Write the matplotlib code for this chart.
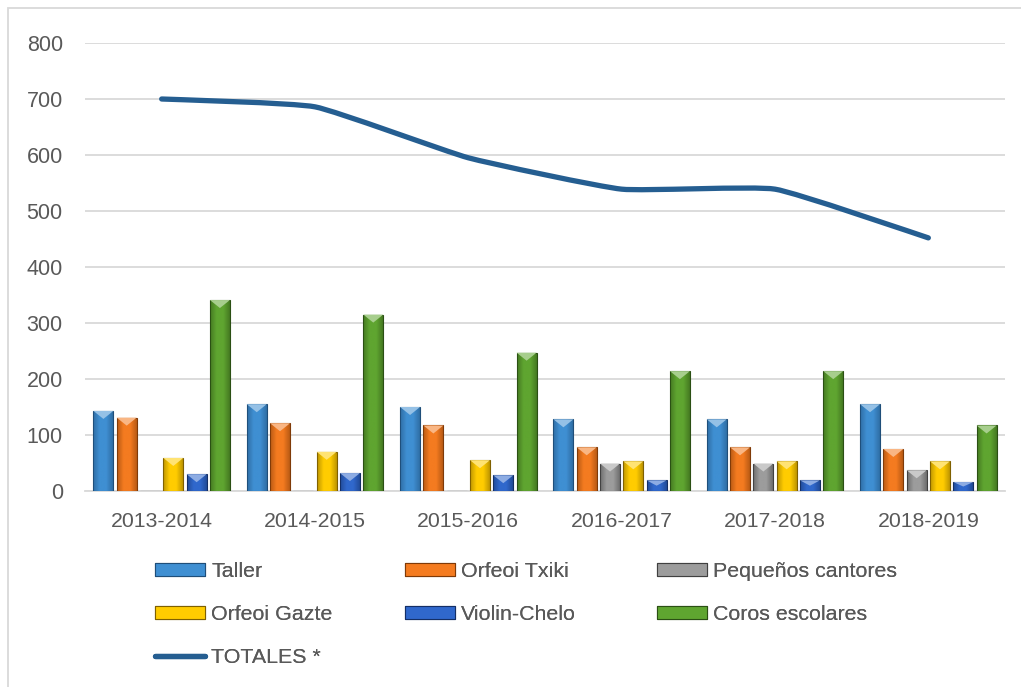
import numpy as np
import matplotlib
matplotlib.use('Agg')
import matplotlib.pyplot as plt
from matplotlib.path import Path
from matplotlib.patches import PathPatch, Rectangle, Polygon
from matplotlib.colors import LinearSegmentedColormap, to_rgb

plt.rcParams['font.family'] = ['Liberation Sans', 'DejaVu Sans']

# Datos
cursos = ['2013-2014', '2014-2015', '2015-2016', '2016-2017', '2017-2018', '2018-2019']
taller = [143, 155, 150, 128, 128, 155]
orfeoi_txiki = [131, 121, 117, 78, 78, 75]
pequenos = [0, 0, 0, 49, 49, 37]
orfeoi_gazte = [59, 70, 55, 53, 53, 53]
violin_chelo = [30, 32, 28, 19, 19, 16]
coros = [341, 315, 247, 214, 214, 117]
totales = [700, 686, 595, 539, 539, 452]

series = [
    ('Taller', taller, '#3F8FD2', '#1F4E79'),
    ('Orfeoi Txiki', orfeoi_txiki, '#F47B20', '#7F3A08'),
    ('Pequeños cantores', pequenos, '#9C9C9C', '#404040'),
    ('Orfeoi Gazte', orfeoi_gazte, '#FFCC00', '#7F6000'),
    ('Violin-Chelo', violin_chelo, '#3068CC', '#142F66'),
    ('Coros escolares', coros, '#5FA530', '#2B4F14'),
]
color_linea = '#255E91'
gris_texto = '#595959'


def aclarar(c, f):
    r, g, b = to_rgb(c)
    return (r + (1 - r) * f, g + (1 - g) * f, b + (1 - b) * f)


fig = plt.figure(figsize=(10.21, 6.87), dpi=100)
ax = fig.add_axes([85 / 1021, 1 - 491 / 687, 920 / 1021, 448 / 687])
ax.set_xlim(-0.5, len(cursos) - 0.5)
ax.set_ylim(0, 800)

x = np.arange(len(cursos))
ancho = 0.13
paso = 0.152
# profundidad del bisel en unidades de datos (aprox. 8 px)
prof = 8 * 800 / 448
handles = []
for i, (nombre, valores, color, oscuro) in enumerate(series):
    desp = (i - 2.5) * paso
    barras = ax.bar(x + desp, valores, ancho, color=color, edgecolor=oscuro,
                    linewidth=0.8, zorder=3, label=nombre)
    cmap = LinearSegmentedColormap.from_list('g', [oscuro, color, color, oscuro])
    grad = np.linspace(0, 1, 64).reshape(1, -1)
    for b in barras:
        if b.get_height() <= 0:
            continue
        bx, by = b.get_x(), b.get_y()
        bw, bh = b.get_width(), b.get_height()
        im = ax.imshow(grad, cmap=cmap, aspect='auto', zorder=3.5,
                       extent=[bx, bx + bw, by, by + bh], alpha=0.5)
        im.set_clip_path(b)
        d = min(prof, bh / 2)
        ax.add_patch(Polygon([(bx, by + bh), (bx + bw, by + bh), (bx + bw / 2, by + bh - d)],
                             closed=True, facecolor=aclarar(color, 0.45),
                             edgecolor='none', zorder=3.7))
    handles.append(barras)
ax.set_xlim(-0.5, len(cursos) - 0.5)

# linea suavizada a traves de los puntos
pts = np.column_stack([x, totales]).astype(float)
verts = [tuple(pts[0])]
codes = [Path.MOVETO]
t = 0.07
for k in range(len(pts) - 1):
    p0 = pts[max(k - 1, 0)]
    p1 = pts[k]
    p2 = pts[k + 1]
    p3 = pts[min(k + 2, len(pts) - 1)]
    c1 = p1 + (p2 - p0) * t
    c2 = p2 - (p3 - p1) * t
    verts += [tuple(c1), tuple(c2), tuple(p2)]
    codes += [Path.CURVE4] * 3
linea = PathPatch(Path(verts, codes), fill=False, edgecolor=color_linea,
                  linewidth=3.8, capstyle='round', joinstyle='round', zorder=5)
ax.add_patch(linea)
h_linea, = ax.plot([], [], color=color_linea, linewidth=3.8,
                   solid_capstyle='round', label='TOTALES *')

ax.set_ylim(0, 800)
ax.set_yticks(range(0, 801, 100))
ax.set_xticks(x)
ax.set_xticklabels(cursos)
ax.tick_params(axis='both', length=0, labelcolor=gris_texto)
ax.tick_params(axis='x', labelsize=15.3, pad=15)
ax.tick_params(axis='y', labelsize=15.5, pad=16)
ax.grid(axis='y', color='#D9D9D9', linewidth=1.3, zorder=0)
for s in ['top', 'right', 'left']:
    ax.spines[s].set_visible(False)
ax.spines['bottom'].set_color('#D9D9D9')
ax.spines['bottom'].set_linewidth(1.3)

# leyenda en tres columnas
columnas = [
    ([handles[0], handles[3], h_linea], ['Taller', 'Orfeoi Gazte', 'TOTALES *'], 155),
    ([handles[1], handles[4]], ['Orfeoi Txiki', 'Violin-Chelo'], 405),
    ([handles[2], handles[5]], ['Pequeños cantores', 'Coros escolares'], 657),
]
for hs, ls, xpos in columnas:
    leg = fig.legend(hs, ls, loc='upper left', bbox_to_anchor=(xpos / 1021, 1 - 562 / 687),
                     frameon=False, fontsize=15.4, labelcolor=gris_texto,
                     handlelength=2.35, handleheight=0.55, handletextpad=0.28,
                     labelspacing=1.13, borderpad=0, borderaxespad=0)
    fig.add_artist(leg)

# borde del grafico
fig.add_artist(Rectangle((8 / 1021, -0.01), 1.02, 1 - 8 / 687 + 0.01,
                         transform=fig.transFigure, fill=False,
                         edgecolor='#D9D9D9', linewidth=1.3))

fig.savefig('out.png', dpi=100)
